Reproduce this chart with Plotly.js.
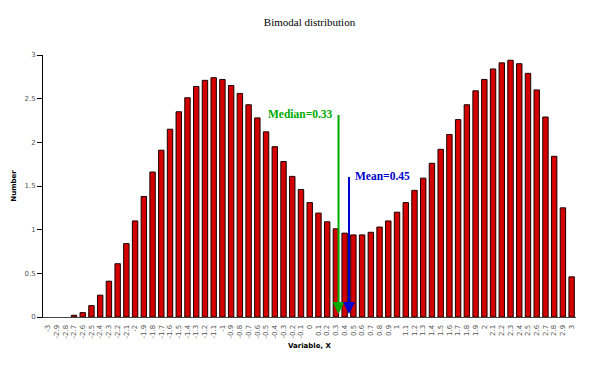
<!DOCTYPE html>
<html>
<head>
<meta charset="utf-8">
<script src="https://cdn.plot.ly/plotly-3.0.1.min.js"></script>
<style>html,body{margin:0;padding:0;background:#fff}#chart{width:596px;height:370px}</style>
</head>
<body>
<div id="chart"></div>
<script>
// Category values of the variable X
const xValues = [-3.0,-2.9,-2.8,-2.7,-2.6,-2.5,-2.4,-2.3,-2.2,-2.1,-2.0,-1.9,-1.8,-1.7,-1.6,-1.5,-1.4,-1.3,-1.2,-1.1,-1.0,-0.9,-0.8,-0.7,-0.6,-0.5,-0.4,-0.3,-0.2,-0.1,0.0,0.1,0.2,0.3,0.4,0.5,0.6,0.7,0.8,0.9,1.0,1.1,1.2,1.3,1.4,1.5,1.6,1.7,1.8,1.9,2.0,2.1,2.2,2.3,2.4,2.5,2.6,2.7,2.8,2.9,3.0];
// Tick labels as printed under the bars
const xLabels = ["-3","-2.9","-2.8","-2.7","-2.6","-2.5","-2.4","-2.3","-2.2","-2.1","-2","-1.9","-1.8","-1.7","-1.6","-1.5","-1.4","-1.3","-1.2","-1.1","-1","-0.9","-0.8","-0.7","-0.6","-0.5","-0.4","-0.3","-0.2","-0.1","0","0.1","0.2","0.3","0.4","0.5","0.6","0.7","0.8","0.9","1","1.1","1.2","1.3","1.4","1.5","1.6","1.7","1.8","1.9","2","2.1","2.2","2.3","2.4","2.5","2.6","2.7","2.8","2.9","3"];
// Bar heights (Number)
const counts = [0,0,0,0.02,0.05,0.13,0.25,0.41,0.61,0.84,1.10,1.38,1.66,1.91,2.15,2.35,2.51,2.64,2.71,2.74,2.72,2.65,2.56,2.43,2.28,2.12,1.95,1.78,1.61,1.46,1.31,1.19,1.09,1.01,0.96,0.94,0.94,0.97,1.03,1.10,1.20,1.31,1.45,1.59,1.76,1.92,2.09,2.26,2.43,2.59,2.72,2.84,2.91,2.94,2.90,2.79,2.60,2.29,1.84,1.25,0.46];
// Y axis ticks
const yTickVals = [0,0.5,1,1.5,2,2.5,3];
const yTickText = ["0","0.5","1","1.5","2","2.5","3"];
// Summary statistics
const statNames = ["Median","Mean"];
const statValues = [0.33, 0.45];

const boundaries = xValues.slice(0, -1).map((v, i) => (v + xValues[i + 1]) / 2);
const xRange = [-3.055, 3.05];

const trace = {
  type: 'bar', x: xValues, y: counts,
  marker: {color: '#d40000', line: {color: '#1a0000', width: counts.map(c => c > 0 ? 1 : 0)}},
  hoverinfo: 'x+y'
};

const statStyle = [
  {color: '#00aa00', top: 2.33, side: 'left'},
  {color: '#0000cc', top: 1.62, side: 'right'}
];
const annotations = [];
statNames.forEach((name, i) => {
  const s = statStyle[i];
  annotations.push({
    x: statValues[i], y: 0, xref: 'x', yref: 'y',
    ax: statValues[i], ay: s.top, axref: 'x', ayref: 'y',
    text: '', showarrow: true, arrowhead: 2, arrowsize: 1.2, arrowwidth: 2,
    arrowcolor: s.color, standoff: 3
  });
  annotations.push({
    x: statValues[i], y: s.top, xref: 'x', yref: 'y', showarrow: false,
    text: '<b>' + name + '=' + statValues[i].toFixed(2) + '</b>',
    xanchor: s.side === 'left' ? 'right' : 'left', yanchor: 'middle',
    xshift: s.side === 'left' ? -4 : 4,
    font: {family: 'Liberation Serif, Times New Roman, serif', size: 11.5, color: s.color}
  });
});

const tickFont = {family: 'DejaVu Sans, Arial, sans-serif', size: 7, color: '#555'};
const layout = {
  width: 596, height: 370,
  margin: {l: 43, r: 20, t: 55, b: 53},
  paper_bgcolor: '#fff', plot_bgcolor: '#fff',
  showlegend: false, bargap: 0.38,
  title: {text: 'Bimodal distribution', x: 0.5, xref: 'paper', y: 1 - 22 / 370, yref: 'container', yanchor: 'middle',
    font: {family: 'Liberation Serif, Times New Roman, serif', size: 11, color: '#000'}},
  xaxis: {
    type: 'linear', range: xRange, tickmode: 'array', tickvals: xValues, ticktext: xLabels,
    tickangle: -90, tickfont: tickFont, ticks: '', ticklabelstandoff: 4,
    showline: true, linecolor: '#444', linewidth: 1, showgrid: false, zeroline: false,
    title: {text: '<b>Variable, X</b>', standoff: 5, font: {family: 'DejaVu Sans, Arial, sans-serif', size: 7, color: '#000'}}
  },
  xaxis2: {
    overlaying: 'x', anchor: 'y', side: 'bottom', range: xRange, tickmode: 'array', tickvals: boundaries,
    ticks: 'outside', ticklen: 3, tickcolor: '#222', showticklabels: false, showline: false, showgrid: false, zeroline: false
  },
  xaxis3: {
    overlaying: 'x', anchor: 'y', side: 'bottom', range: xRange, tickmode: 'array', tickvals: boundaries,
    ticks: 'inside', ticklen: 3, tickcolor: '#222', showticklabels: false, showline: false, showgrid: false, zeroline: false
  },
  yaxis: {
    range: [0, 3], tickmode: 'array', tickvals: yTickVals, ticktext: yTickText,
    ticks: 'outside', ticklen: 5, tickcolor: '#000', tickfont: tickFont,
    showline: true, linecolor: '#000', linewidth: 1, showgrid: false, zeroline: false,
    title: {text: '<b>Number</b>', standoff: 7, font: {family: 'DejaVu Sans, Arial, sans-serif', size: 7, color: '#000'}}
  },
  annotations: annotations
};

Plotly.newPlot('chart', [trace], layout, {displayModeBar: false, staticPlot: true});
</script>
</body>
</html>
